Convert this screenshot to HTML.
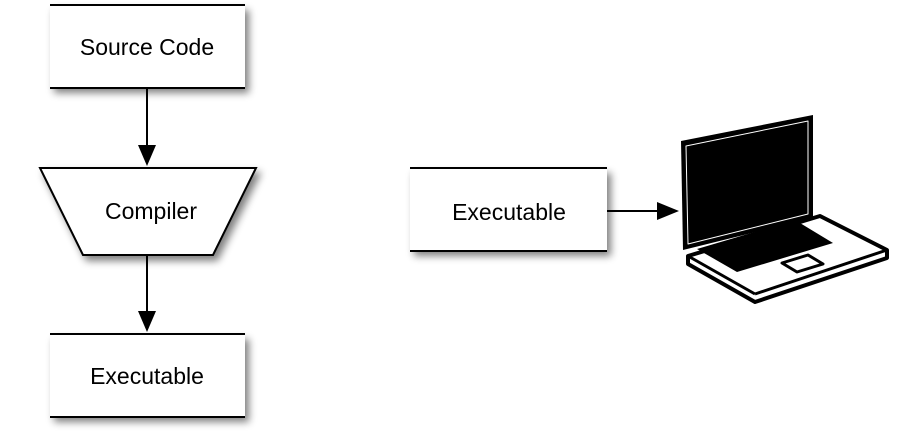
<!DOCTYPE html>
<html><head><style>
body{margin:0;background:#fff;width:900px;height:434px;overflow:hidden}
</style></head><body>
<svg width="900" height="434" xmlns="http://www.w3.org/2000/svg" font-family="Liberation Sans, sans-serif">
<defs>
<filter id="sh" x="-20%" y="-20%" width="150%" height="160%">
<feGaussianBlur in="SourceAlpha" stdDeviation="4"/>
<feOffset dx="4" dy="5"/>
<feComponentTransfer><feFuncA type="linear" slope="0.5"/></feComponentTransfer>
<feMerge><feMergeNode/><feMergeNode in="SourceGraphic"/></feMerge>
</filter>
</defs>
<g filter="url(#sh)">
<rect x="50" y="5" width="195" height="83" fill="#fff"/>
<rect x="50" y="334" width="195" height="83" fill="#fff"/>
<rect x="410" y="168" width="197" height="83" fill="#fff"/>
<polygon points="40,168 256,168 213,255 83,255" fill="#fff" stroke="#000" stroke-width="2"/>
</g>
<g stroke="#000" stroke-width="2">
<line x1="50" y1="5" x2="245" y2="5"/><line x1="50" y1="88" x2="245" y2="88"/>
<line x1="50" y1="334" x2="245" y2="334"/><line x1="50" y1="417" x2="245" y2="417"/>
<line x1="410" y1="168" x2="607" y2="168"/><line x1="410" y1="251" x2="607" y2="251"/>
<line x1="147" y1="88" x2="147" y2="148"/>
<line x1="147" y1="255" x2="147" y2="314"/>
<line x1="607" y1="211" x2="660" y2="211"/>
</g>
<polygon points="138,145 156,145 147,166" fill="#000"/>
<polygon points="138,311 156,311 147,332" fill="#000"/>
<polygon points="657,202 657,220 679,211" fill="#000"/>
<g font-size="23" text-anchor="middle" fill="#000">
<text x="147" y="55">Source Code</text>
<text x="151" y="219">Compiler</text>
<text x="147" y="384">Executable</text>
<text x="509" y="220">Executable</text>
</g>
<g stroke-linejoin="round">
<polygon points="688,256 820,216 887,250 887,258 755,302 688,264" fill="#fff" stroke="#000" stroke-width="4"/>
<line x1="688" y1="256" x2="755" y2="294" stroke="#000" stroke-width="3"/>
<line x1="755" y1="294" x2="887" y2="250" stroke="#000" stroke-width="3"/>
<polygon points="697,249 795,220 833,243 737,272" fill="#000"/>
<polygon points="782,263 808,255 823,264 797,272" fill="#fff" stroke="#000" stroke-width="3"/>
<polygon points="681,141 813,115 813,218 683,250" fill="#000"/>
<polygon points="686,146 808,121 808,214 688,244" fill="none" stroke="#fff" stroke-width="1"/>
</g>
</svg>
</body></html>
